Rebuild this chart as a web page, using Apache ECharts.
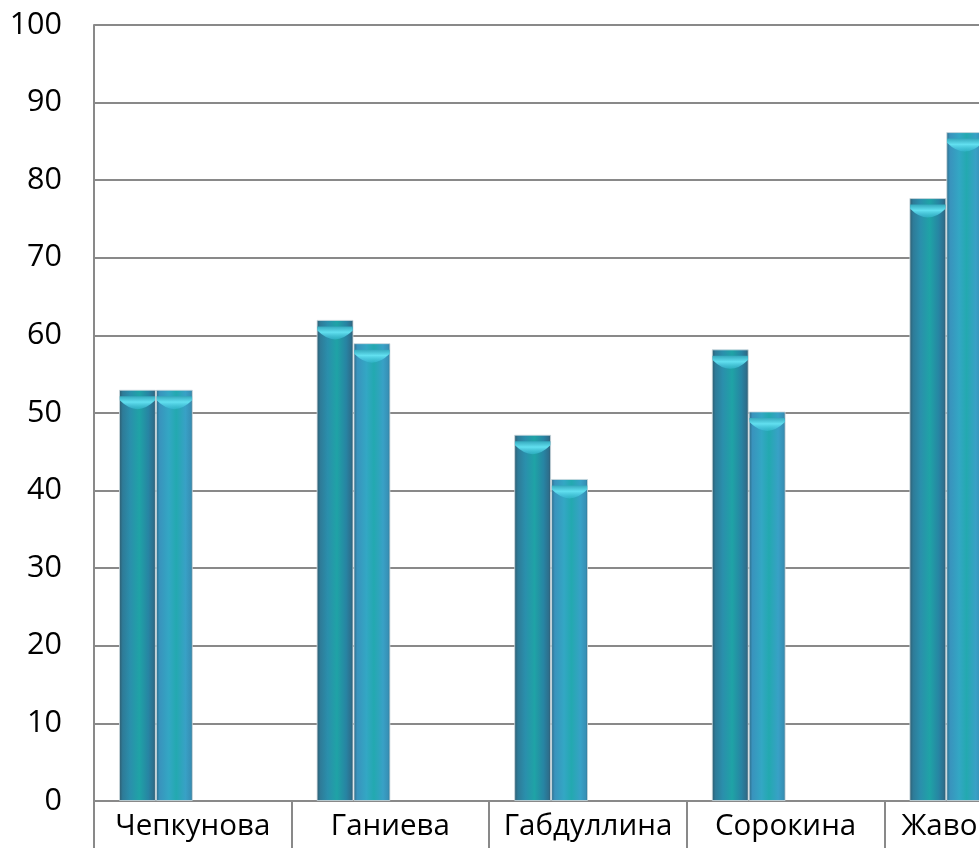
<!DOCTYPE html>
<html><head><meta charset="utf-8">
<script src="https://cdn.jsdelivr.net/npm/echarts@6/dist/echarts.min.js"></script>
<style>html,body{margin:0;padding:0;background:#fff;overflow:hidden;width:979px;height:848px}#c{width:1082px;height:848px}</style>
</head><body><div id="c"></div>
<script>
const categories = ['Чепкунова', 'Ганиева', 'Габдуллина', 'Сорокина', 'Жаворонок'];
const series1 = [53, 62, 47.2, 58.2, 77.7];
const series2 = [53, 59, 41.5, 50.2, 86.2];
const series3 = [null, null, null, null, null];
const series4 = [null, null, null, null, null];
const yTicks = { min: 0, max: 100, interval: 10 };

const FONT = 'Open Sans';
const grad = (stops) => new echarts.graphic.LinearGradient(0, 0, 1, 0, stops.map((c) => ({ offset: c[0], color: c[1] })));
const g1 = grad([[0, '#2f5a6c'], [0.1, '#2e7b98'], [0.3, '#2a8fac'], [0.55, '#1fa3a6'], [0.8, '#2784a3'], [0.93, '#2d6f8d'], [1, '#35586a']]);
const g2 = grad([[0, '#2d6883'], [0.1, '#3993bd'], [0.35, '#33a7c4'], [0.55, '#23a9b0'], [0.8, '#38a1c6'], [0.94, '#3790b6'], [1, '#2e6d88']]);
const capGrad = new echarts.graphic.LinearGradient(0, 0, 0, 1, [
  { offset: 0, color: '#35a9bd' }, { offset: 0.45, color: '#62e0f0' }, { offset: 1, color: 'rgba(60,190,215,0.5)' }]);
const capPath = 'path://M0,0 H20 V3 Q10,16 0,3 Z';

const common = { barGap: '0%', barCategoryGap: '25.3%' };
const barSeries = [series1, series2, series3, series4].map((d, i) => Object.assign({
  type: 'bar', data: d, z: 2,
  itemStyle: { color: i === 0 ? g1 : g2, borderColor: 'rgba(205,218,222,0.8)', borderWidth: 1 }
}, common));
const capSeries = [series1, series2, series3, series4].map((d) => Object.assign({
  type: 'pictorialBar', data: d, z: 5, symbol: capPath, symbolRepeat: false,
  symbolSize: ['96%', 13], symbolPosition: 'end', symbolOffset: [0, '50%'],
  itemStyle: { color: capGrad }, silent: true
}, common));

const chart = echarts.init(document.getElementById('c'), null, { renderer: 'canvas' });
chart.setOption({
  animation: false,
  grid: { left: 94, top: 25, bottom: 47, right: 0, containLabel: false },
  xAxis: {
    type: 'category', data: categories, boundaryGap: true,
    axisLine: { lineStyle: { color: '#898989', width: 2 } },
    axisTick: { show: true, length: 60, interval: 0, lineStyle: { color: '#898989', width: 2 } },
    axisLabel: { interval: 0, fontFamily: FONT, fontSize: 29.5, color: '#000', margin: 11 }
  },
  yAxis: {
    type: 'value', min: yTicks.min, max: yTicks.max, interval: yTicks.interval,
    axisLine: { show: true, lineStyle: { color: '#898989', width: 2 } },
    axisTick: { show: false },
    splitLine: { lineStyle: { color: '#898989', width: 2 } },
    axisLabel: { fontFamily: FONT, fontSize: 30.5, color: '#000', margin: 32 }
  },
  series: barSeries.concat(capSeries)
});
</script></body></html>
